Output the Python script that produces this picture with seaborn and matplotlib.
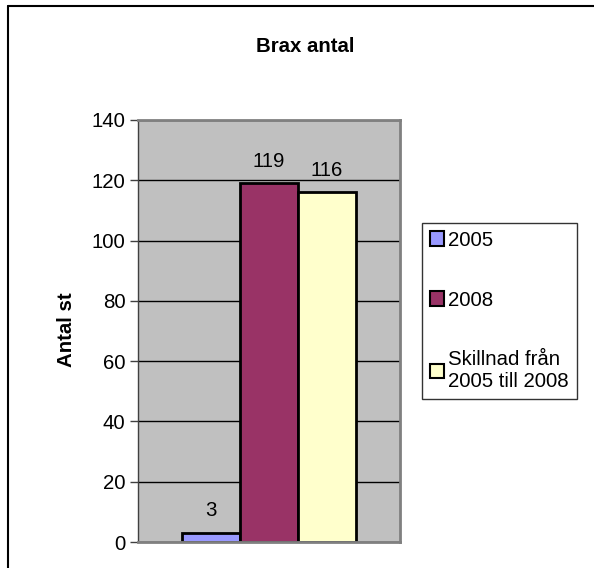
import pandas as pd
import matplotlib.pyplot as plt
import seaborn as sns
from matplotlib.lines import Line2D
from matplotlib.patches import Patch

# data
serier = ['2005', '2008', 'Skillnad från\n2005 till 2008']
antal = [3, 119, 116]
farger = ['#9999FF', '#993366', '#FFFFCC']
y_ticks = [0, 20, 40, 60, 80, 100, 120, 140]

df = pd.DataFrame({'grupp': ['Brax'] * len(serier), 'serie': serier, 'antal': antal})

sns.set_style('white')
plt.rcParams['font.family'] = ['Liberation Sans', 'DejaVu Sans']
plt.rcParams['text.color'] = 'black'
plt.rcParams['ytick.color'] = 'black'
plt.rcParams['ytick.labelcolor'] = 'black'
fs = 14.7

fig = plt.figure(figsize=(5.94, 5.68), dpi=100)
ax = fig.add_axes([138 / 594, 26 / 568, 262 / 594, 422 / 568])

sns.barplot(data=df, x='grupp', y='antal', hue='serie', palette=farger,
            saturation=1, width=0.664, edgecolor='black', linewidth=2,
            legend=False, ax=ax)

for c in ax.containers:
    ax.bar_label(c, fmt='%d', fontsize=fs, padding=9, color='black')

ax.set_facecolor('#C0C0C0')
ax.set_xlim(-0.5, 0.5)
ax.set_ylim(0, 140)
ax.set_yticks(y_ticks)
ax.set_yticklabels([str(t) for t in y_ticks], fontsize=fs, color='black')
ax.set_xticks([])
ax.set_xlabel('')
ax.set_ylabel('')
ax.yaxis.grid(True, color='black', linewidth=1)
ax.set_axisbelow(True)
ax.tick_params(axis='y', left=True, length=6, width=1, color='#404040', pad=3)
for s in ax.spines.values():
    s.set_color('#808080')
    s.set_linewidth(2)
ax.spines['left'].set_color('#404040')
ax.spines['left'].set_linewidth(1)

fig.text(305 / 594, 1 - 47 / 568, 'Brax antal', ha='center', va='center',
         fontsize=fs, fontweight='bold', color='black')
fig.text(66 / 594, 1 - 330 / 568, 'Antal st', ha='center', va='center',
         rotation=90, fontsize=fs, fontweight='bold', color='black')

handles = [Patch(facecolor=f, edgecolor='black', linewidth=1.5) for f in farger]
leg = fig.legend(handles, serier, loc='upper left',
                 bbox_to_anchor=(422 / 594, 1 - 223 / 568), fontsize=fs,
                 frameon=True, fancybox=False, edgecolor='black',
                 labelspacing=2.0, handlelength=0.7, handleheight=0.7,
                 handletextpad=0.2, borderpad=0.38, borderaxespad=0,
                 labelcolor='black')
leg.get_frame().set_linewidth(1)

# outer chart border (top and left visible)
fig.add_artist(Line2D([8 / 594, 1], [1 - 6 / 568, 1 - 6 / 568], color='black', linewidth=1.5))
fig.add_artist(Line2D([8 / 594, 8 / 594], [0, 1 - 6 / 568], color='black', linewidth=1.5))

fig.savefig('out.png', dpi=100)
